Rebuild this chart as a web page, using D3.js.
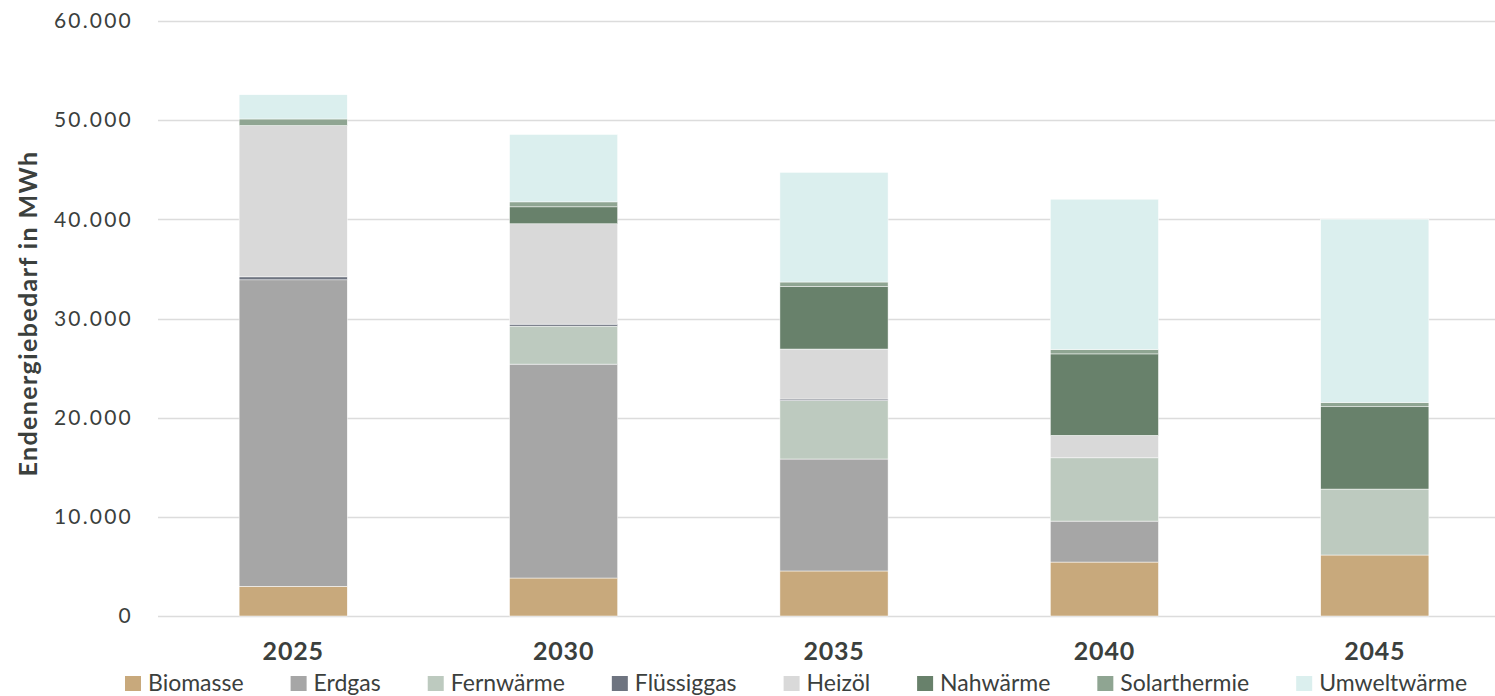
<!DOCTYPE html>
<html>
<head>
<meta charset="utf-8">
<script src="https://cdn.jsdelivr.net/npm/d3@7"></script>
<style>
body { margin:0; background:#fff; }
svg { display:block; }
</style>
</head>
<body>
<svg id="chart"></svg>
<script>
// Endenergiebedarf nach Energieträger, MWh
var years = ["2025", "2030", "2035", "2040", "2045"]
var carriers = ["Biomasse", "Erdgas", "Fernwärme", "Flüssiggas", "Heizöl", "Nahwärme", "Solarthermie", "Umweltwärme"]
var colors = ["#c8a97c", "#a6a6a6", "#bdcabf", "#6e7480", "#d9d9d9", "#68816b", "#8fa592", "#dbefee"]

var biomasse     = [3000, 3830, 4540, 5440, 6150]
var erdgas       = [30900, 21570, 11290, 4130, 0]
var fernwaerme   = [0, 3830, 5900, 6380, 6650]
var fluessiggas  = [300, 200, 150, 0, 0]
var heizoel      = [15250, 10120, 5040, 2260, 0]
var nahwaerme    = [0, 1710, 6290, 8220, 8300]
var solarthermie = [670, 500, 470, 450, 440]
var umweltwaerme = [2450, 6800, 11060, 15150, 18480]

var yTicks = [0, 10000, 20000, 30000, 40000, 50000, 60000]

var screen = {width:1495, height:696}
var margins = {top:21, right:0, left:158, bottom:80}

var series = [biomasse, erdgas, fernwaerme, fluessiggas, heizoel, nahwaerme, solarthermie, umweltwaerme]

var table = years.map(function(y, i){
    var row = {year:y}
    carriers.forEach(function(c, j){ row[c] = series[j][i] })
    return row
})

var de = d3.formatLocale({decimal:",", thousands:".", grouping:[3], currency:["","€"]})
var fmt = de.format(",.0f")

var svg = d3.select("#chart")
    .attr("width", screen.width)
    .attr("height", screen.height)

var yScale = d3.scaleLinear()
    .domain([0, 60000])
    .range([616, margins.top])

var xScale = d3.scaleBand()
    .domain(years)
    .range([margins.left, 1510])
    .paddingInner(0.6)
    .paddingOuter(0.3)

// gridlines
svg.append("g")
    .selectAll("line")
    .data(yTicks)
    .enter()
    .append("line")
    .attr("x1", margins.left)
    .attr("x2", screen.width)
    .attr("y1", function(d){ return Math.round(yScale(d)) + 0.5 })
    .attr("y2", function(d){ return Math.round(yScale(d)) + 0.5 })
    .attr("stroke", "#dcdcdc")
    .attr("stroke-width", 1.5)

// y axis labels
var yAxis = d3.axisLeft(yScale)
    .tickValues(yTicks)
    .tickFormat(fmt)
    .tickSize(0)
    .tickPadding(0)

svg.append("g")
    .attr("id", "yAxis")
    .attr("transform", "translate(133,0)")
    .call(yAxis)
    .call(function(g){ g.select(".domain").remove() })
    .selectAll("text")
    .attr("font-family", "Lato, sans-serif")
    .attr("font-size", 21)
    .attr("fill", "#3b403d")
    .attr("letter-spacing", 2.2)

svg.append("text")
    .attr("transform", "translate(37," + yScale(30500) + ") rotate(-90)")
    .attr("text-anchor", "middle")
    .attr("font-family", "Lato, sans-serif")
    .attr("font-weight", "bold")
    .attr("font-size", 25)
    .attr("letter-spacing", 1.4)
    .attr("fill", "#3b403d")
    .text("Endenergiebedarf in MWh")

// stacked bars
var stack = d3.stack().keys(carriers)(table)

svg.append("g")
    .selectAll("g")
    .data(stack)
    .enter()
    .append("g")
    .attr("fill", function(d, i){ return colors[i] })
    .selectAll("rect")
    .data(function(d){ return d })
    .enter()
    .append("rect")
    .attr("x", function(d){ return xScale(d.data.year) })
    .attr("width", xScale.bandwidth())
    .attr("y", function(d){ return yScale(d[1]) })
    .attr("height", function(d){ return yScale(d[0]) - yScale(d[1]) })
    .attr("stroke", "#ffffff")
    .attr("stroke-width", 0.5)

// x axis labels
var xAxis = d3.axisBottom(xScale).tickSize(0).tickPadding(0)

svg.append("g")
    .attr("id", "xAxis")
    .attr("transform", "translate(0,642)")
    .call(xAxis)
    .call(function(g){ g.select(".domain").remove() })
    .selectAll("text")
    .attr("dy", "0.71em")
    .attr("font-family", "Lato, sans-serif")
    .attr("font-weight", "bold")
    .attr("font-size", 25)
    .attr("letter-spacing", 0.8)
    .attr("fill", "#3b403d")

// legend
var legend = svg.append("g").attr("id", "legend")
var lx = 125
carriers.forEach(function(c, i){
    var item = legend.append("g").attr("transform", "translate(" + lx + ",676)")
    item.append("rect")
        .attr("width", 16)
        .attr("height", 15)
        .attr("fill", colors[i])
    var t = item.append("text")
        .attr("x", 23)
        .attr("y", 15)
        .attr("font-family", "Lato, sans-serif")
        .attr("font-size", 23)
        .attr("fill", "#3b403d")
        .text(c)
    lx += 23 + t.node().getComputedTextLength() + 47
})
</script>
</body>
</html>
